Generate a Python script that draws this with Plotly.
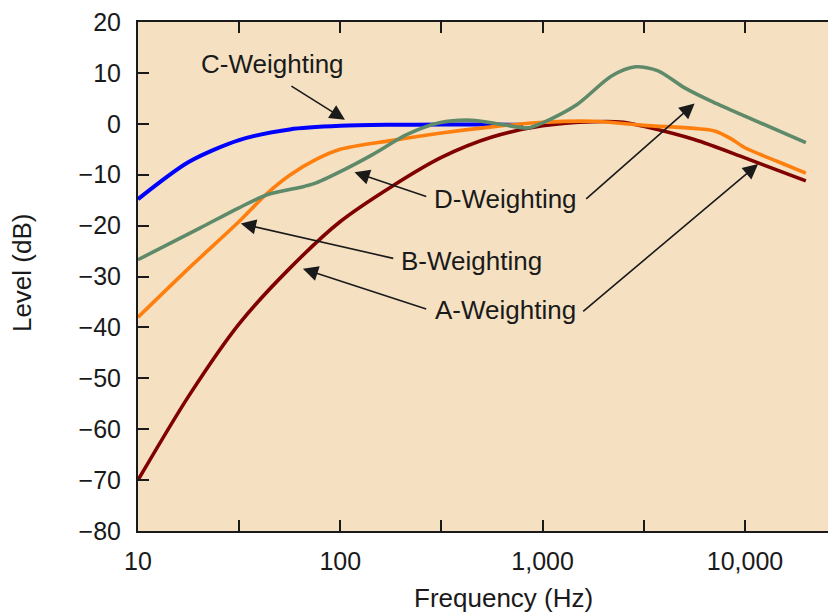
import plotly.graph_objects as go

# ---- data (frequency in Hz, level in dB) ----
freq_a = [10, 17.8, 31.6, 56.2, 100, 178, 316, 562, 1000, 1780, 2510, 3160, 5620, 10000, 20000]
level_a = [-70, -53.5, -39.3, -28.4, -19.2, -12.4, -6.6, -2.6, -0.4, 0.4, 0.3, -0.5, -3.1, -6.7, -11.2]

freq_b = [10, 17.8, 31.6, 43.7, 56.2, 75.9, 100, 178, 316, 562, 1000, 1780, 3160, 5620, 7080,
          8510, 10000, 14500, 20000]
level_b = [-38, -28.4, -19.2, -13.6, -10.1, -7.0, -5.0, -3.3, -1.8, -0.6, 0.3, 0.5, -0.3, -0.9, -1.4,
           -2.9, -4.7, -7.4, -9.7]

freq_c = [10, 17.8, 31.6, 56.2, 100, 178, 316, 562, 800]
level_c = [-14.8, -7.5, -3.2, -1.1, -0.4, -0.2, -0.15, -0.15, -0.2]

freq_d = [10, 20.2, 31.2, 43.7, 66.1, 75.9, 107, 145, 214, 309, 447, 617, 851, 1000, 1480, 2190,
          2880, 3720, 5010, 6760, 10000, 20000]
level_d = [-26.7, -20.5, -16.6, -13.9, -12.3, -11.6, -8.8, -6.0, -2.1, 0.2, 0.7, -0.1, -0.8, 0.2, 3.8, 9.4,
           11.2, 10.4, 7.1, 4.5, 1.5, -3.7]

x_tickvals = [10, 31.6, 100, 316, 1000, 3162, 10000]
x_ticktext = ["10", "", "100", "", "1,000", "", "10,000"]
y_tickvals = [-80, -70, -60, -50, -40, -30, -20, -10, 0, 10, 20]

FONT = "Liberation Sans, Arial, Helvetica, sans-serif"
INK = "#1a1a1a"

fig = go.Figure()
fig.add_trace(go.Scatter(x=freq_c, y=level_c, mode="lines", name="C",
                         line=dict(color="#0000ff", width=4, shape="spline", smoothing=0.8)))
fig.add_trace(go.Scatter(x=freq_a, y=level_a, mode="lines", name="A",
                         line=dict(color="#800000", width=3.6, shape="spline", smoothing=0.8)))
fig.add_trace(go.Scatter(x=freq_b, y=level_b, mode="lines", name="B",
                         line=dict(color="#ff7f0e", width=3.6, shape="spline", smoothing=0.8)))
fig.add_trace(go.Scatter(x=freq_d, y=level_d, mode="lines", name="D",
                         line=dict(color="#5e8a6a", width=3.6, shape="spline", smoothing=0.8)))
# empty trace to carry the right-hand tick axis
fig.add_trace(go.Scatter(x=[], y=[], yaxis="y2", showlegend=False, hoverinfo="skip"))

# labels (positions in axis units: log10(Hz), dB)
labels = [
    ("C-Weighting", 1.667, 11.7),
    ("B-Weighting", 2.647, -26.9),
    ("D-Weighting", 2.814, -14.7),
    ("A-Weighting", 2.814, -36.6),
]
annotations = []
for txt, lx, ly in labels:
    annotations.append(dict(x=lx, y=ly, xref="x", yref="y", text=txt, showarrow=False,
                            font=dict(family=FONT, size=26, color=INK),
                            xanchor="center", yanchor="middle"))

# arrows: (tail x, tail y, head x, head y)
arrows = [
    (1.751, 7.6, 2.023, 0.8),
    (2.269, -26.5, 1.508, -19.6),
    (2.432, -14.4, 2.07, -9.5),
    (3.208, -15.0, 3.751, 4.0),
    (2.432, -36.5, 1.815, -28.5),
    (3.193, -37.1, 4.065, -7.9),
]
for tx, ty, hx, hy in arrows:
    annotations.append(dict(x=hx, y=hy, ax=tx, ay=ty, xref="x", yref="y", axref="x", ayref="y",
                            text="", showarrow=True, arrowhead=2, arrowsize=1.9, arrowwidth=1.6,
                            arrowcolor=INK, standoff=0, startstandoff=0))

# axis titles
annotations.append(dict(x=0.523, y=-0.131, xref="paper", yref="paper", text="Frequency (Hz)",
                        showarrow=False, font=dict(family=FONT, size=26, color=INK),
                        xanchor="center", yanchor="middle"))
annotations.append(dict(x=-0.166, y=0.507, xref="paper", yref="paper", text="Level (dB)",
                        showarrow=False, textangle=-90, font=dict(family=FONT, size=26, color=INK),
                        xanchor="center", yanchor="middle"))

# page body has an 8px margin: figure is sized so the plot sits where the reference has it
fig.update_layout(
    width=828, height=604,
    margin=dict(l=130, r=0, t=14, b=81, autoexpand=False),
    paper_bgcolor="white",
    plot_bgcolor="#f5e1c2",
    showlegend=False,
    font=dict(family=FONT, size=25, color=INK),
    annotations=annotations,
    xaxis=dict(type="log", range=[1, 4.45], tickvals=x_tickvals, ticktext=x_ticktext,
               ticks="inside", ticklen=11, tickwidth=2, tickcolor=INK, automargin=False,
               showline=True, linewidth=2, linecolor=INK, mirror="ticks",
               showgrid=False, zeroline=False, ticklabelstandoff=7, ticklabeloverflow="allow",
               tickfont=dict(family=FONT, size=25, color=INK)),
    yaxis=dict(range=[-80, 20], tickvals=y_tickvals, automargin=False,
               ticks="inside", ticklen=11, tickwidth=2, tickcolor=INK,
               showline=True, linewidth=2, linecolor=INK, mirror=False,
               showgrid=False, zeroline=False, ticklabelstandoff=10, ticklabeloverflow="allow",
               tickfont=dict(family=FONT, size=25, color=INK)),
    yaxis2=dict(range=[-80, 20], tickvals=y_tickvals, overlaying="y", side="right",
                automargin=False,
                ticks="inside", ticklen=4, tickwidth=2, tickcolor=INK,
                showline=False, showgrid=False, zeroline=False, showticklabels=False),
)

fig.write_html("out.html")
